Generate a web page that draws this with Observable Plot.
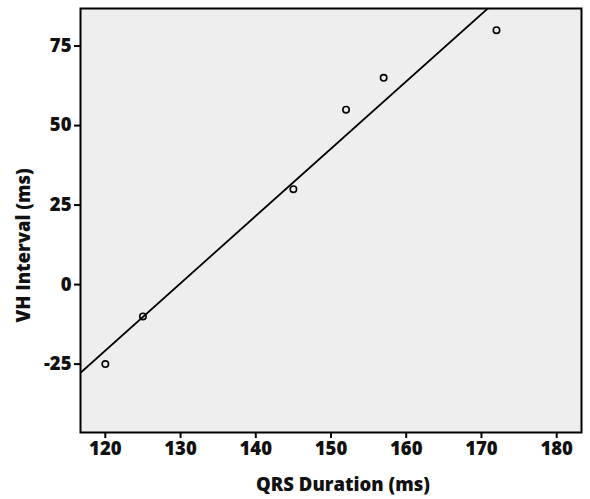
<!DOCTYPE html>
<html>
<head>
<meta charset="utf-8">
<script src="https://cdn.jsdelivr.net/npm/d3@7"></script>
<script src="https://cdn.jsdelivr.net/npm/@observablehq/plot@0.6"></script>
<style>
  html, body { margin: 0; padding: 0; background: #ffffff; }
  #chart svg { display: block; }
  #chart svg text { font-weight: 800; }
</style>
</head>
<body>
<div id="chart"></div>
<script>
// Data
const qrsDuration = [120, 125, 145, 152, 157, 172];
const vhInterval  = [-25, -10, 30, 55, 65, 80];
const xTicks = [120, 130, 140, 150, 160, 170, 180];
const yTicks = [-25, 0, 25, 50, 75];
const xDomain = [116.7, 183.3];
const yDomain = [-46.5, 86.8];
const xTitle = "QRS Duration (ms)";
const yTitle = "VH Interval (ms)";

const data = qrsDuration.map((x, i) => ({x, y: vhInterval[i]}));

// least-squares fit line across the full x domain
const mx = d3.mean(qrsDuration), my = d3.mean(vhInterval);
const sxy = d3.sum(data, d => (d.x - mx) * (d.y - my));
const sxx = d3.sum(data, d => (d.x - mx) ** 2);
const slope = sxy / sxx, intercept = my - slope * mx;
const fit = xDomain.map(x => ({x, y: intercept + slope * x}));

const font = "'Open Sans', sans-serif";
const fmt = d => String(d);

const chart = Plot.plot({
  width: 590,
  height: 499,
  marginLeft: 80,
  marginTop: 8,
  marginRight: 9,
  marginBottom: 67,
  style: {fontFamily: font, fontWeight: "800", color: "#111", background: "#ffffff"},
  x: {domain: xDomain},
  y: {domain: yDomain},
  marks: [
    Plot.frame({fill: "#eeeeee", stroke: "none"}),
    Plot.line(fit, {x: "x", y: "y", stroke: "#000", strokeWidth: 1.8, clip: true}),
    Plot.dot(data, {x: "x", y: "y", r: 3.2, stroke: "#000", strokeWidth: 1.6, fill: "none"}),
    Plot.frame({stroke: "#000", strokeWidth: 2}),
    Plot.axisX({ticks: xTicks, tickFormat: fmt, tickSize: 6, tickPadding: 3, fontSize: 18.5, label: null, stroke: "#000", strokeWidth: 2}),
    Plot.axisY({ticks: yTicks, tickFormat: fmt, tickSize: 6, tickPadding: 3, fontSize: 18.5, label: null, stroke: "#000", strokeWidth: 2}),
    Plot.text([xTitle], {text: d => d, frameAnchor: "bottom", textAnchor: "middle", lineAnchor: "middle", dy: 53, dx: 12, fontSize: 18.5, fontWeight: "800", fill: "#111"}),
    Plot.text([yTitle], {text: d => d, frameAnchor: "left", textAnchor: "middle", lineAnchor: "middle", dx: -56, dy: 25, rotate: -90, fontSize: 18.5, fontWeight: "800", fill: "#111"})
  ]
});
document.getElementById("chart").appendChild(chart);
</script>
</body>
</html>
